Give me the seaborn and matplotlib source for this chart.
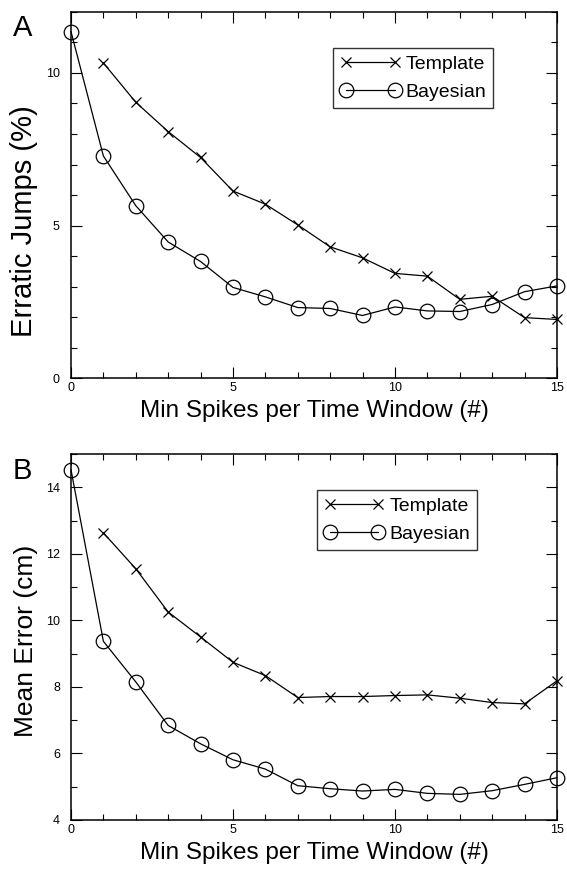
import seaborn as sns
import matplotlib.pyplot as plt
import numpy as np
import pandas as pd
from matplotlib.ticker import MultipleLocator

# data
min_spikes = list(range(16))

jumps_template = [np.nan, 10.33, 9.04, 8.08, 7.23, 6.13, 5.70, 5.02, 4.30, 3.94,
                  3.43, 3.34, 2.58, 2.68, 1.98, 1.92]
jumps_bayesian = [11.36, 7.28, 5.65, 4.46, 3.82, 2.97, 2.66, 2.31, 2.28, 2.05,
                  2.33, 2.20, 2.18, 2.41, 2.83, 3.02]

error_template = [np.nan, 12.63, 11.55, 10.25, 9.50, 8.74, 8.34, 7.68, 7.71, 7.71,
                  7.74, 7.76, 7.66, 7.53, 7.49, 8.18]
error_bayesian = [14.53, 9.37, 8.15, 6.84, 6.29, 5.81, 5.53, 5.03, 4.94, 4.87,
                  4.92, 4.80, 4.77, 4.88, 5.07, 5.27]

sns.set_style("ticks", {"text.color": "black", "axes.labelcolor": "black",
                        "xtick.color": "black", "ytick.color": "black",
                        "axes.edgecolor": "black"})
plt.rcParams['font.family'] = ['Liberation Sans', 'DejaVu Sans']

fig = plt.figure(figsize=(5.67, 8.69), dpi=100)
ax_a = fig.add_axes([0.1252, 0.565, 0.857, 0.4212])
ax_b = fig.add_axes([0.1252, 0.0564, 0.857, 0.4212])


def draw_panel(ax, template, bayesian, ylabel, ylab_size, ylab_y, ylim, major, leg_x):
    df = pd.DataFrame({"x": min_spikes, "Template": template, "Bayesian": bayesian})
    sns.lineplot(data=df, x="x", y="Template", ax=ax, color="black", lw=0.9,
                 marker="x", markersize=7.5, markeredgewidth=0.9,
                 markeredgecolor="black", label="Template", clip_on=False)
    sns.lineplot(data=df, x="x", y="Bayesian", ax=ax, color="black", lw=0.9,
                 marker="o", markersize=10.5, markerfacecolor="none",
                 markeredgewidth=0.9, markeredgecolor="black", label="Bayesian",
                 clip_on=False)
    ax.set_xlim(0, 15)
    ax.set_ylim(*ylim)
    ax.xaxis.set_major_locator(MultipleLocator(5))
    ax.xaxis.set_minor_locator(MultipleLocator(1))
    ax.yaxis.set_major_locator(MultipleLocator(major))
    ax.yaxis.set_minor_locator(MultipleLocator(1))
    ax.tick_params(which="both", direction="in", top=True, right=True,
                   labelsize=9, width=0.8)
    ax.tick_params(axis="y", pad=8)
    ax.tick_params(axis="x", pad=3)
    ax.tick_params(which="major", length=8)
    ax.tick_params(which="minor", length=4.5)
    for s in ax.spines.values():
        s.set_linewidth(1.1)
    ax.set_xlabel("Min Spikes per Time Window (#)", fontsize=17.5, labelpad=4)
    ax.set_ylabel(ylabel, fontsize=ylab_size, labelpad=4)
    ax.yaxis.set_label_coords(-0.068, ylab_y)
    leg = ax.legend(loc="upper right", bbox_to_anchor=(leg_x, 0.902), numpoints=2,
                    handlelength=3.1, handletextpad=0.25, fontsize=14,
                    frameon=True, fancybox=False, edgecolor="black",
                    borderpad=0.35, labelspacing=0.45, borderaxespad=0,
                    handleheight=0.9)
    leg.get_frame().set_linewidth(1.0)


draw_panel(ax_a, jumps_template, jumps_bayesian, "Erratic Jumps (%)", 21, 0.43,
           (0, 12), 5, 0.868)
draw_panel(ax_b, error_template, error_bayesian, "Mean Error (cm)", 19, 0.49,
           (4, 15), 2, 0.835)

fig.text(13 / 567, 1 - 14 / 869, "A", fontsize=21, ha="left", va="top")
fig.text(13 / 567, 1 - 457 / 869, "B", fontsize=21, ha="left", va="top")

fig.savefig("out.png", dpi=100)
